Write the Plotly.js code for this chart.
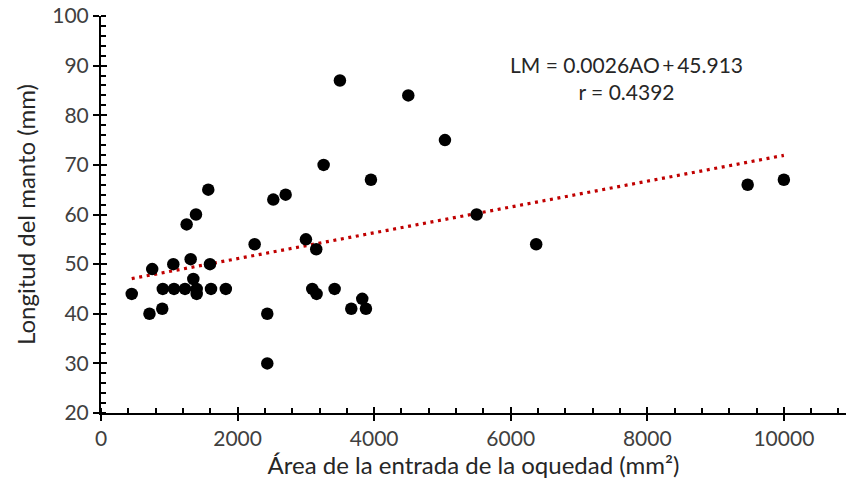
<!DOCTYPE html>
<html>
<head>
<meta charset="utf-8">
<script src="https://cdn.plot.ly/plotly-3.0.1.min.js"></script>
<style>html,body{margin:0;padding:0;background:#fff}#chart{width:846px;height:493px}</style>
</head>
<body>
<div id="chart"></div>
<script>
// Área de la entrada de la oquedad (mm²)
const areaAO = [450, 710, 750, 897, 905, 1059, 1069, 1230, 1254, 1313, 1352, 1391, 1401, 1401, 1571, 1596, 1611, 1828, 2250, 2435, 2435, 2523, 2704, 3001, 3094, 3152, 3157, 3260, 3421, 3499, 3665, 3826, 3880, 3953, 4500, 5037, 5501, 6373, 9470, 10000];
// Longitud del manto (mm)
const longitudLM = [44, 40, 49, 41, 45, 50, 45, 45, 58, 51, 47, 60, 45, 44, 65, 50, 45, 45, 54, 40, 30, 63, 64, 55, 45, 53, 44, 70, 45, 87, 41, 43, 41, 67, 84, 75, 60, 54, 66, 67];
// Linear trendline as stated on the chart
const slope = 0.0026;
const intercept = 45.913;
const eqText = "LM = 0.0026AO\u2009+\u200945.913";
const rText = "r = 0.4392";
const xTickVals = [0, 2000, 4000, 6000, 8000, 10000];
const yTickVals = [20, 30, 40, 50, 60, 70, 80, 90, 100];

const xMin = Math.min(...areaAO), xMax = Math.max(...areaAO);
const trendX = [xMin, xMax];
const trendY = trendX.map(v => slope * v + intercept);

const FONT = "Lato, 'Open Sans', sans-serif";
const XR = [0, 10910], YR = [20, 100];

const traces = [
  {x: trendX, y: trendY, mode: 'lines', line: {color: '#C00000', width: 3.2, dash: '3px,4.6px'}, hoverinfo: 'skip', showlegend: false},
  {x: areaAO, y: longitudLM, mode: 'markers', marker: {color: '#000', size: 12.5, line: {width: 0}}, showlegend: false},
  {x: [], y: [], xaxis: 'x2', yaxis: 'y2', showlegend: false}
];

const layout = {
  width: 846, height: 493,
  margin: {l: 101, r: 0, t: 16, b: 80},
  paper_bgcolor: '#fff', plot_bgcolor: '#fff',
  font: {family: FONT, color: '#404040'},
  showlegend: false,
  xaxis: {
    range: XR, tickvals: xTickVals, ticktext: xTickVals.map(String),
    showgrid: false, zeroline: false,
    showline: true, linecolor: '#000', linewidth: 2,
    ticks: 'outside', ticklen: 6, tickwidth: 2, tickcolor: '#000',
    minor: {dtick: 400, tick0: 0, ticks: 'inside', ticklen: 5, tickwidth: 2, tickcolor: '#000', showgrid: false},
    tickfont: {size: 21, color: '#404040', family: FONT},
    title: {text: 'Área de la entrada de la oquedad (mm²)', font: {size: 24, color: '#262626', family: FONT}, standoff: 8}
  },
  yaxis: {
    range: YR, tickvals: yTickVals, ticktext: yTickVals.map(String),
    showgrid: false, zeroline: false,
    showline: true, linecolor: '#000', linewidth: 2,
    ticks: 'outside', ticklen: 6, tickwidth: 2, tickcolor: '#000',
    minor: {dtick: 2, tick0: 20, ticks: 'inside', ticklen: 5, tickwidth: 2, tickcolor: '#000', showgrid: false},
    tickfont: {size: 21, color: '#404040', family: FONT},
    title: {text: 'Longitud del manto (mm)', font: {size: 24, color: '#262626', family: FONT}, standoff: 10}
  },
  xaxis2: {overlaying: 'x', range: XR, tickvals: xTickVals, showticklabels: false, ticks: 'inside', ticklen: 6, tickwidth: 2, tickcolor: '#000', showgrid: false, zeroline: false, showline: false, anchor: 'y2', side: 'bottom'},
  yaxis2: {overlaying: 'y', range: YR, tickvals: yTickVals, showticklabels: false, ticks: 'inside', ticklen: 6, tickwidth: 2, tickcolor: '#000', showgrid: false, zeroline: false, showline: false, anchor: 'x2', side: 'left'},
  annotations: [
    {xref: 'paper', yref: 'paper', x: 0.706, y: 0.843, text: eqText + '<br>' + rText, showarrow: false, align: 'center',
     font: {size: 21, color: '#262626', family: FONT}, xanchor: 'center', yanchor: 'middle'}
  ]
};

Plotly.newPlot('chart', traces, layout, {staticPlot: true, displayModeBar: false});
</script>
</body>
</html>
